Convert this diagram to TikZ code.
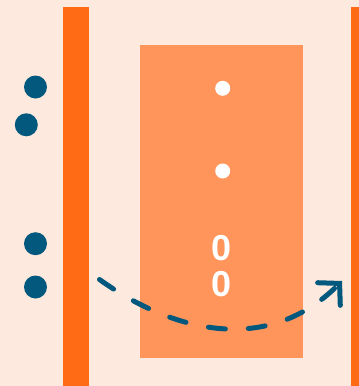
\documentclass[tikz,border=0pt]{standalone}
\usepackage{fontspec}
\setmainfont{Liberation Sans}
\usetikzlibrary{arrows.meta}
\definecolor{bgc}{HTML}{FEE9DE}
\definecolor{barc}{HTML}{FF6A14}
\definecolor{boxc}{HTML}{FF955A}
\definecolor{bluec}{HTML}{03587D}
\tikzset{
  bluedot/.style={circle,fill=bluec,inner sep=0pt,minimum size=23pt},
  whitedot/.style={circle,fill=white,inner sep=0pt,minimum size=15pt},
  zero/.style={text=white,inner sep=0pt,font=\fontsize{36}{36}\selectfont\bfseries},
  flow/.style={draw=bluec,line width=5pt,line cap=round,dash pattern=on 17pt off 23pt,-{Straight Barb[length=15pt,width=32pt,line cap=round]}}
}
\begin{document}
\begin{tikzpicture}[x=1pt,y=-1pt]
\useasboundingbox (0,0) rectangle (359,386);
\fill[bgc] (0,0) rectangle (359,386);
\fill[barc] (63,7) rectangle (89,386);
\fill[barc] (351,7) rectangle (359,386);
\fill[boxc] (140,45) rectangle (303,357.5);
\node[bluedot] (b1) at (35.5,87) {};
\node[bluedot] (b2) at (26.3,124.8) {};
\node[bluedot] (b3) at (35.5,243.7) {};
\node[bluedot] (b4) at (35.5,287) {};
\node[whitedot] (w1) at (222.7,88.3) {};
\node[whitedot] (w2) at (222.7,171) {};
\node[zero] (z1) at (221.8,248.5) {0};
\node[zero] (z2) at (221.8,284) {0};
\coordinate (s) at (99.5,279.5);
\coordinate (e) at (342,281);
\draw[flow] (s) .. controls (174,333) and (268,355) .. (e);
\end{tikzpicture}
\end{document}
